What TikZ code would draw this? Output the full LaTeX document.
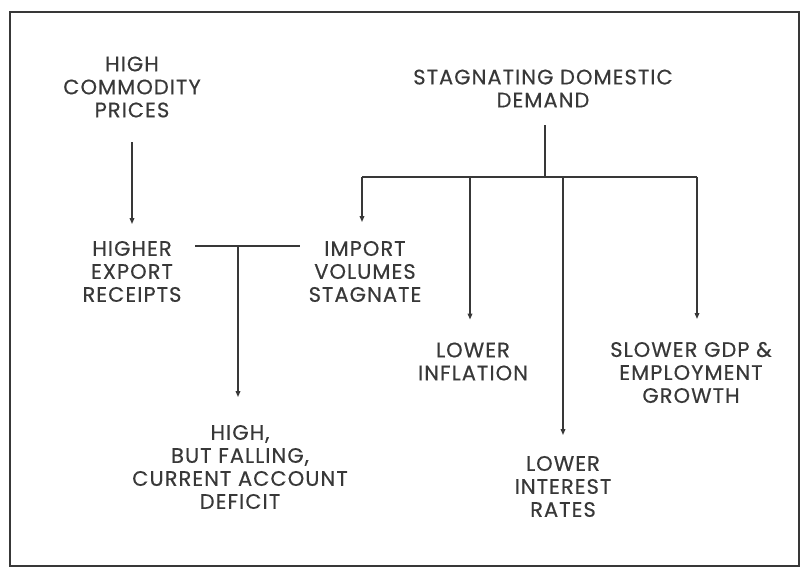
\documentclass[tikz,border=0pt]{standalone}
\usepackage{fontspec}
\setmainfont{Poppins}[FakeBold=0.4,LetterSpace=5]
\usetikzlibrary{arrows.meta}
\definecolor{ink}{HTML}{383838}
\begin{document}
\begin{tikzpicture}[x=1pt,y=-1pt,color=ink,line width=1.8pt,
  >={Triangle[length=6pt,width=4.5pt]},
  box/.style={align=center,inner sep=0pt,font=\fontsize{21}{23}\selectfont}]
\useasboundingbox (0,0) rectangle (801,567);
\draw (10,12) rectangle (799,566);
\node[box] (prices) at (132,87) {HIGH\\COMMODITY\\PRICES};
\node[box] (export) at (132,271.5) {HIGHER\\EXPORT\\RECEIPTS};
\node[box] (deficit) at (240,467) {HIGH,\\BUT FALLING,\\CURRENT ACCOUNT\\DEFICIT};
\node[box] (demand) at (543,88.5) {STAGNATING DOMESTIC\\DEMAND};
\node[box] (import) at (365,271.5) {IMPORT\\VOLUMES\\STAGNATE};
\node[box] (inflation) at (473,361.5) {LOWER\\INFLATION};
\node[box] (interest) at (563,486.5) {LOWER\\INTEREST\\RATES};
\node[box] (growth) at (691,372.5) {SLOWER GDP \&\\EMPLOYMENT\\GROWTH};
\coordinate (bar) at (238,246);
\coordinate (split) at (545,177);
\draw[->,shorten <=24pt,shorten >=16pt] (prices) -- (export);
\draw ([xshift=13pt]export.east |- bar) -- ([xshift=-8pt]import.west |- bar);
\draw[->,shorten >=27pt] (bar) -- (bar |- deficit.north);
\draw[shorten <=17pt] (demand.south -| split) -- (split);
\draw ([xshift=-3pt]import.north |- split) -- ([xshift=6pt]growth.north |- split);
\foreach \n/\dx/\gap in {import/-3/18,inflation/-3/22,interest/0/20,growth/6/22}
  \draw[->,shorten >=\gap pt] ([xshift=\dx pt]\n.north |- split) -- ([xshift=\dx pt]\n.north);
\end{tikzpicture}
\end{document}
